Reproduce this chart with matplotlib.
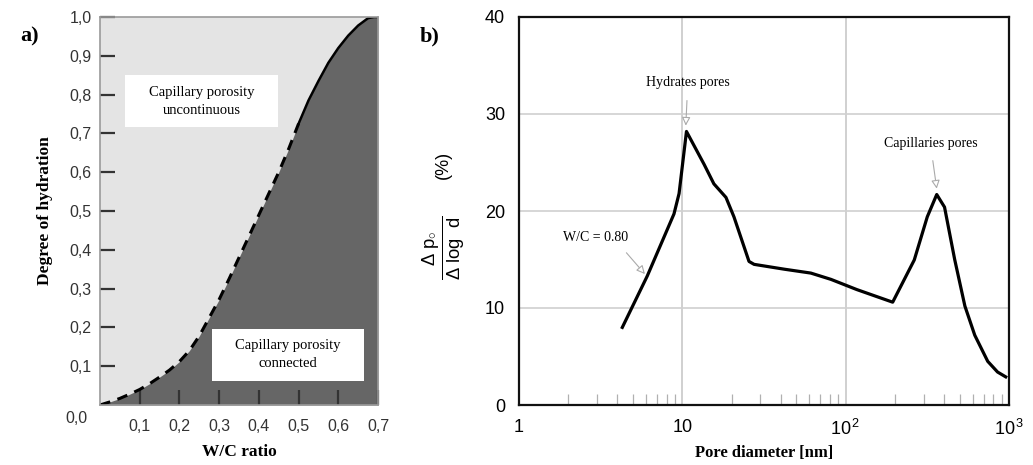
import numpy as np
import matplotlib
matplotlib.use("Agg")
import matplotlib.pyplot as plt
from matplotlib.patches import Rectangle

plt.rcParams['mathtext.fontset'] = 'custom'
plt.rcParams['mathtext.rm'] = 'Liberation Sans'
plt.rcParams['mathtext.it'] = 'Liberation Sans:italic'
plt.rcParams['mathtext.bf'] = 'Liberation Sans:bold'

# ---- panel a data ----
wc_ratio = [0.0, 0.025, 0.05, 0.075, 0.1, 0.125, 0.15, 0.175, 0.2, 0.225, 0.25, 0.275, 0.3,
            0.325, 0.35, 0.375, 0.4, 0.425, 0.45, 0.475, 0.5, 0.525, 0.55, 0.575, 0.6,
            0.625, 0.65, 0.675, 0.69, 0.7]
hydration = [0.0, 0.008, 0.017, 0.028, 0.04, 0.055, 0.072, 0.09, 0.112, 0.14, 0.178, 0.225, 0.272,
             0.325, 0.38, 0.435, 0.49, 0.545, 0.60, 0.66, 0.725, 0.785, 0.835, 0.882, 0.92,
             0.952, 0.978, 0.997, 1.0, 1.0]
dash_end = 21  # dashed part up to w/c = 0.5
a_yticks = [0.1, 0.2, 0.3, 0.4, 0.5, 0.6, 0.7, 0.8, 0.9, 1.0]
a_ylabels = ['0,1', '0,2', '0,3', '0,4', '0,5', '0,6', '0,7', '0,8', '0,9', '1,0']
a_xticks = [0.1, 0.2, 0.3, 0.4, 0.5, 0.6, 0.7]
a_xlabels = ['0,1', '0,2', '0,3', '0,4', '0,5', '0,6', '0,7']

# ---- panel b data ----
pore_d = [4.29, 6.10, 8.89, 9.55, 10.6, 13.6, 15.6, 18.5, 20.7, 25.6, 27.5, 42.1, 61.2, 81.3, 117,
          194, 263, 316, 361, 403, 465, 537, 617, 741, 851, 955]
dpo = [8.0, 13.3, 19.7, 21.8, 28.2, 24.8, 22.8, 21.4, 19.4, 14.8, 14.5, 14.0, 13.6, 12.95, 11.9,
       10.6, 14.95, 19.4, 21.7, 20.4, 15.0, 10.2, 7.2, 4.5, 3.4, 2.9]
b_xticks = [1, 10, 100, 1000]
b_xlabels = ['1', '10', '$10^{\\,2}$', '$10^{\\,3}$']
b_yticks = [0, 10, 20, 30, 40]

fig = plt.figure(figsize=(10.33, 4.65), dpi=100)

# ---------------- panel a ----------------
ax1 = fig.add_axes([100/1033, 60/465, 278/1033, 388/465])
ax1.set_facecolor('#e4e4e4')
ax1.fill_between(wc_ratio, hydration, 0, color='#666666', lw=0)
ax1.plot(wc_ratio[:dash_end], hydration[:dash_end], color='black', lw=2.2, ls=(0, (3.5, 2.5)))
ax1.plot(wc_ratio[dash_end-1:], hydration[dash_end-1:], color='black', lw=1.8)
ax1.set_xlim(0, 0.7)
ax1.set_ylim(0, 1.0)
for s in ax1.spines.values():
    s.set_color('#9a9a9a')
    s.set_linewidth(1.2)
ax1.set_yticks(a_yticks)
ax1.set_yticklabels(a_ylabels, fontsize=11.5, color='#333333', family='Liberation Sans')
ax1.set_xticks(a_xticks)
ax1.set_xticklabels(a_xlabels, fontsize=11.5, color='#333333', family='Liberation Sans')
ax1.tick_params(axis='both', direction='in', length=11, width=1.6, color='#333333')
ax1.tick_params(axis='y', pad=6)
ax1.tick_params(axis='x', pad=10)
ax1.text(-0.045, -0.034, '0,0', transform=ax1.transAxes, ha='right', va='center',
         fontsize=11.5, color='#333333', family='Liberation Sans')
ax1.set_ylabel('Degree of hydration', fontsize=12.5, fontweight='bold', family='Liberation Serif', labelpad=12)
ax1.set_xlabel('W/C ratio', fontsize=12.5, fontweight='bold', family='Liberation Serif', labelpad=7)
ax1.add_patch(Rectangle((0.063, 0.716), 0.385, 0.135, facecolor='white', edgecolor='none', zorder=3))
ax1.add_patch(Rectangle((0.282, 0.062), 0.383, 0.134, facecolor='white', edgecolor='none', zorder=3))
ax1.text(0.256, 0.783, 'Capillary porosity\nuncontinuous', ha='center', va='center',
         fontsize=10.5, family='Liberation Serif', linespacing=1.5, zorder=4)
ax1.text(0.473, 0.129, 'Capillary porosity\nconnected', ha='center', va='center',
         fontsize=10.5, family='Liberation Serif', linespacing=1.5, zorder=4)
fig.text(20/1033, 1 - 36/465, 'a)', fontsize=16, fontweight='bold', family='Liberation Serif', va='center')

# ---------------- panel b ----------------
ax2 = fig.add_axes([519/1033, 60/465, 490/1033, 388/465])
ax2.set_xscale('log')
ax2.set_xlim(1, 1000)
ax2.set_ylim(0, 40)
ax2.plot(pore_d, dpo, color='black', lw=2.3, solid_joinstyle='round')
for v in [10, 100]:
    ax2.axvline(v, color='#c8c8c8', lw=1.2, zorder=0)
for v in [10, 20, 30]:
    ax2.axhline(v, color='#d0d0d0', lw=1.2, zorder=0)
for s in ax2.spines.values():
    s.set_color('#111111')
    s.set_linewidth(1.6)
ax2.set_xticks(b_xticks)
ax2.set_xticklabels(b_xlabels, fontsize=13, family='Liberation Sans')
ax2.set_yticks(b_yticks)
ax2.set_yticklabels([str(v) for v in b_yticks], fontsize=13, family='Liberation Sans')
ax2.tick_params(axis='x', which='major', length=0, pad=10)
ax2.tick_params(axis='y', which='major', length=0, pad=10)
ax2.xaxis.set_minor_locator(matplotlib.ticker.LogLocator(base=10, subs=np.arange(2, 10)))
ax2.xaxis.set_minor_formatter(matplotlib.ticker.NullFormatter())
ax2.tick_params(axis='x', which='minor', direction='in', length=8, width=0.9, color='#b0b0b0')
ax2.set_xlabel('Pore diameter [nm]', fontsize=12, fontweight='bold', family='Liberation Serif', labelpad=4)

arrow_kw = dict(arrowstyle='-|>,head_length=0.5,head_width=0.25', color='#aaaaaa', lw=0.8,
                shrinkA=6, shrinkB=0, fc='white')
ax2.annotate('Hydrates pores', xy=(10.5, 28.8), xytext=(10.8, 33.2), ha='center', va='center',
             fontsize=10, family='Liberation Serif', arrowprops=arrow_kw)
ax2.annotate('Capillaries pores', xy=(361, 22.3), xytext=(330, 27.0), ha='center', va='center',
             fontsize=10, family='Liberation Serif', arrowprops=arrow_kw)
ax2.annotate('W/C = 0.80', xy=(5.9, 13.5), xytext=(2.95, 17.3), ha='center', va='center',
             fontsize=10, family='Liberation Serif',
             arrowprops=dict(arrow_kw, relpos=(0.85, 0.0)))
fig.text(444/1033, 1 - 248/465, r'$\frac{\Delta\ \mathrm{p}_{\circ}}{\Delta\ \mathrm{log}\ \ \mathrm{d}}$',
         rotation=90, fontsize=19, ha='center', va='center')
fig.text(443/1033, 1 - 165/465, '(%)', rotation=90, fontsize=13, ha='center', va='center',
         family='Liberation Sans')
fig.text(420/1033, 1 - 36/465, 'b)', fontsize=16, fontweight='bold', family='Liberation Serif', va='center')

fig.savefig('out.png', dpi=100)
